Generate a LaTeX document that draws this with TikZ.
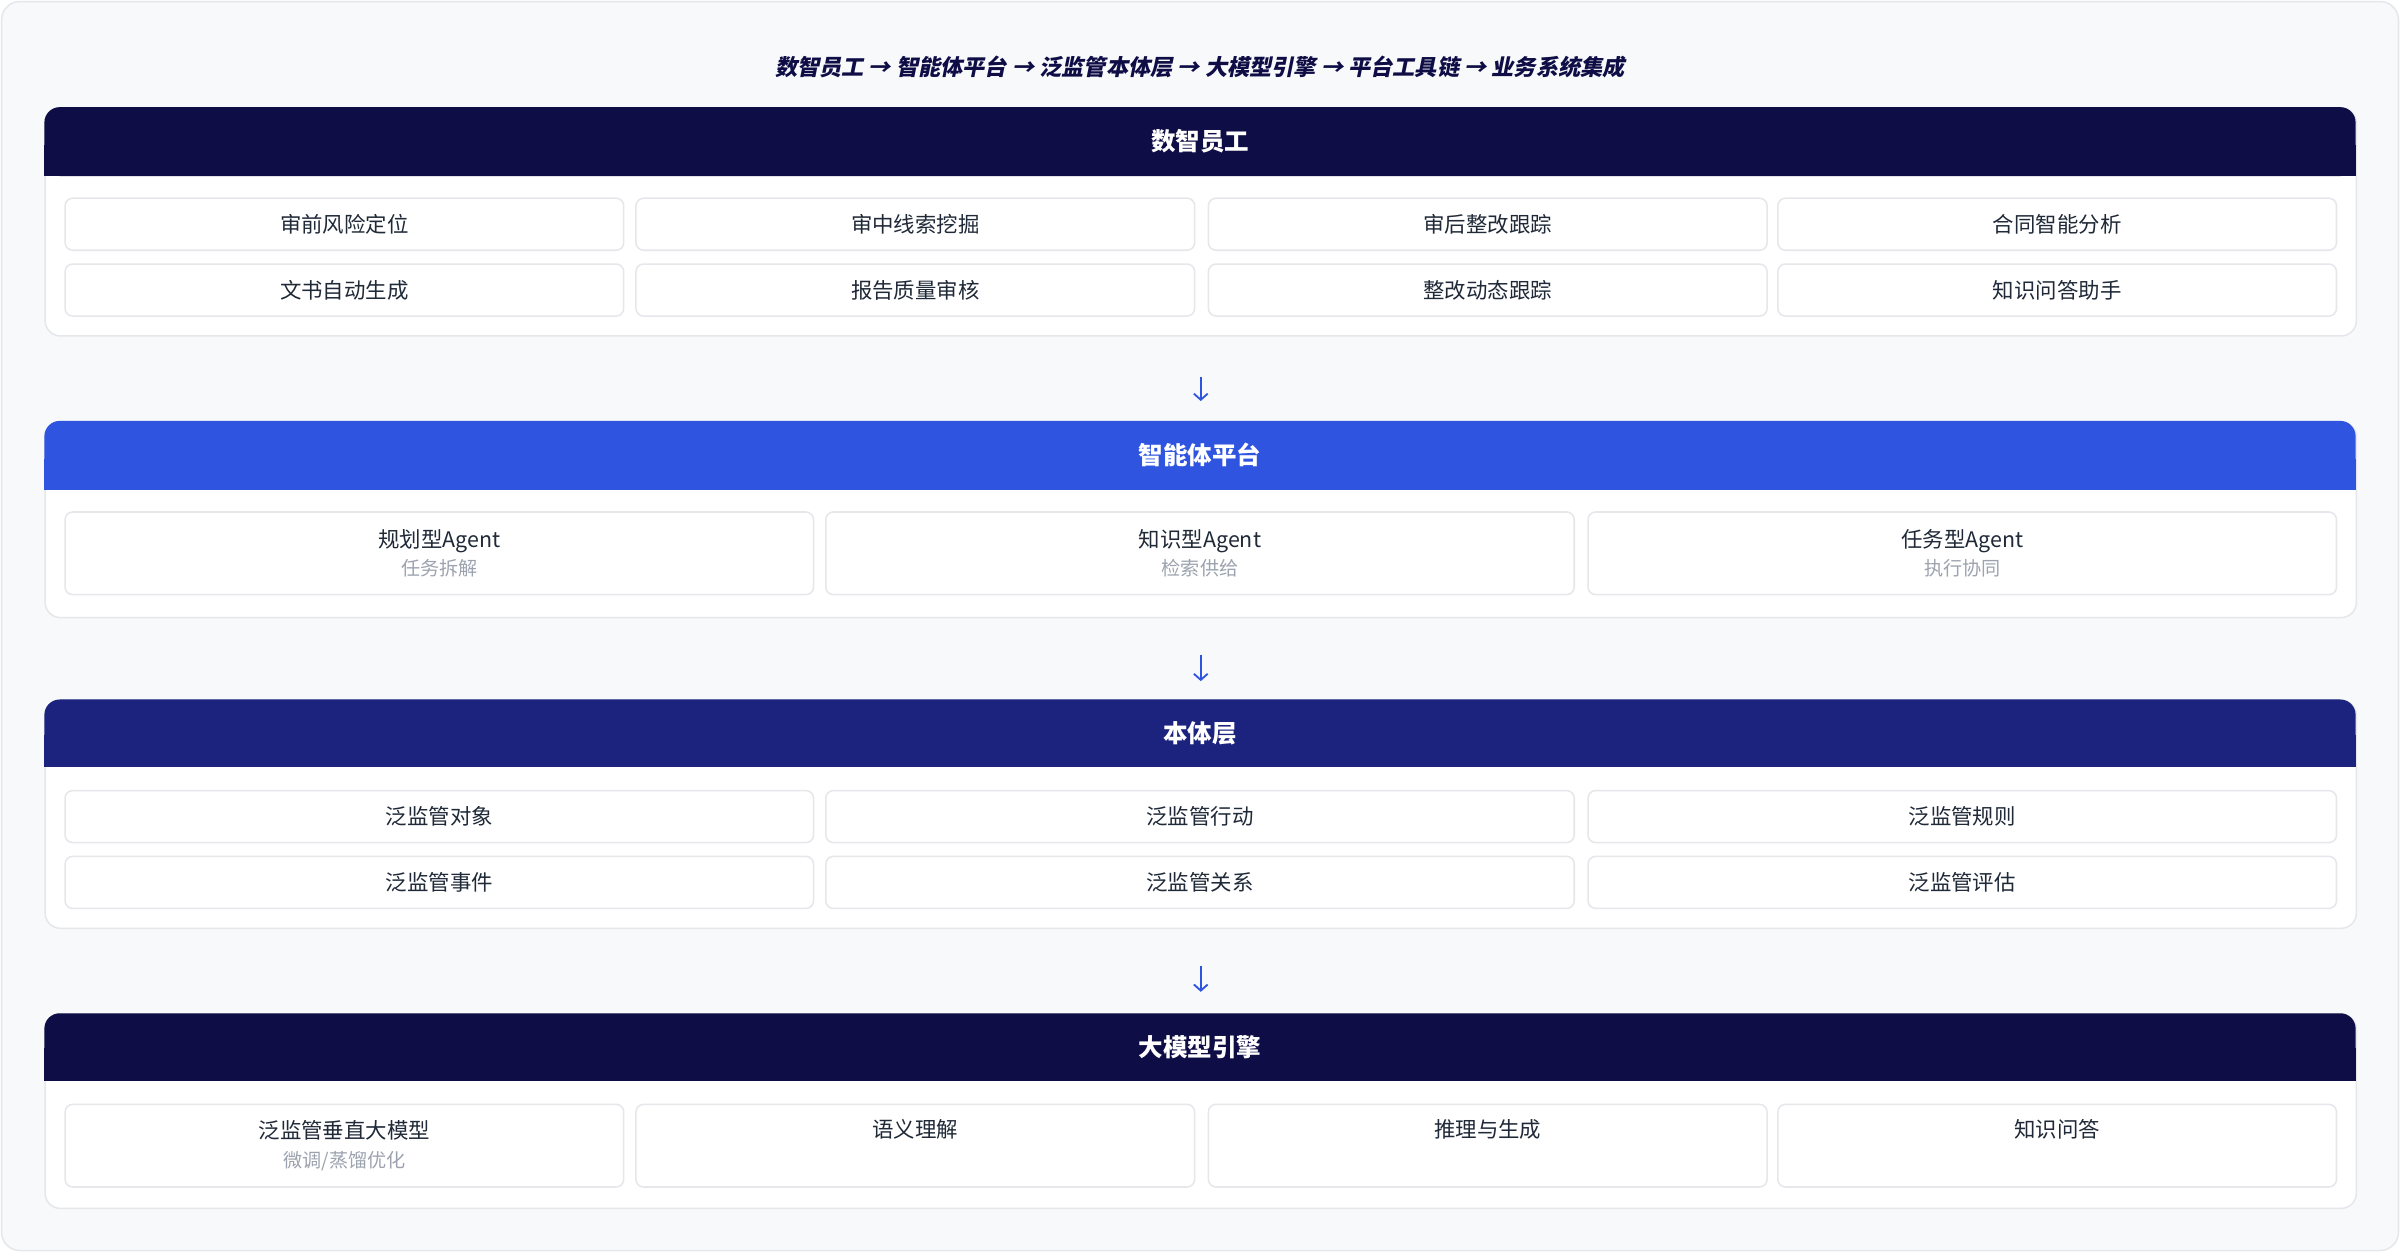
\documentclass[tikz,border=0pt]{standalone}
\usepackage{fontspec}
\setmainfont{Noto Sans CJK SC}
\newfontfamily\slantfont{Noto Sans CJK SC}[FakeSlant=0.2, BoldFeatures={FakeSlant=0.2}]
\usepackage{tikz}
\usetikzlibrary{calc,positioning}
\usetikzlibrary{arrows.meta}
\definecolor{navy}{HTML}{0F0D45}
\definecolor{royal}{HTML}{2F54E0}
\definecolor{indigo}{HTML}{1B237E}
\definecolor{pagebg}{HTML}{F8F9FB}
\definecolor{edge}{HTML}{E5E7EB}
\definecolor{ink}{HTML}{1F2937}
\definecolor{muted}{HTML}{9CA3AF}
\newcommand{\subline}[1]{\\[1.5pt]{\color{muted}\fontsize{12.5}{15}\selectfont #1}}

\begin{document}
\begin{tikzpicture}[x=1pt, y=-1pt,
  cell/.style={draw=edge, line width=1pt, fill=white, rounded corners=5pt, anchor=north west, inner sep=0pt, text=ink, font=\fontsize{14}{17}\selectfont, align=center},
  quad/.style={cell, minimum width=365pt},
  triple/.style={cell, minimum width=489pt},
  panel/.style={draw=edge, line width=1pt, fill=white, rounded corners=10pt, anchor=north west, minimum width=1510pt, inner sep=0pt},
  headtxt/.style={text=white, font=\fontsize{16}{19}\selectfont\bfseries},
  flow/.style={royal, line width=1.2pt, -{Straight Barb[length=4pt, width=9pt]}}]
\useasboundingbox (0,0) rectangle (1568,818);
% background card
\draw[fill=pagebg, draw=edge, line width=1pt, rounded corners=12pt] (1,1) rectangle (1567,817);
\node[text=navy, font=\fontsize{14.5}{17}\slantfont\bfseries] (title) at (784,44) {数智员工 → 智能体平台 → 泛监管本体层 → 大模型引擎 → 平台工具链 → 业务系统集成};

% FIRST SECTION
\node[panel, minimum height=149pt] (s1) at (29,70) {};
\fill[navy, rounded corners=10pt] (29,70) rectangle (1539,115);
\fill[navy] (29,95) rectangle (1539,115);
\node[headtxt] (h1) at (784,92.5) {数智员工};
\node[quad, minimum height=34pt] (a1) at (42,129) {审前风险定位};
\node[quad, minimum height=34pt] (a2) at (415,129) {审中线索挖掘};
\node[quad, minimum height=34pt] (a3) at (789,129) {审后整改跟踪};
\node[quad, minimum height=34pt] (a4) at (1161,129) {合同智能分析};
\node[quad, minimum height=34pt] (a5) at (42,172) {文书自动生成};
\node[quad, minimum height=34pt] (a6) at (415,172) {报告质量审核};
\node[quad, minimum height=34pt] (a7) at (789,172) {整改动态跟踪};
\node[quad, minimum height=34pt] (a8) at (1161,172) {知识问答助手};

% SECOND SECTION
\node[panel, minimum height=128pt] (s2) at (29,275) {};
\fill[royal, rounded corners=10pt] (29,275) rectangle (1539,320);
\fill[royal] (29,300) rectangle (1539,320);
\node[headtxt] (h2) at (784,297.5) {智能体平台};
\node[triple, minimum height=54pt] (b1) at (42,334) {规划型Agent\subline{任务拆解}};
\node[triple, minimum height=54pt] (b2) at (539,334) {知识型Agent\subline{检索供给}};
\node[triple, minimum height=54pt] (b3) at (1037,334) {任务型Agent\subline{执行协同}};

% THIRD SECTION
\node[panel, minimum height=149pt] (s3) at (29,457) {};
\fill[indigo, rounded corners=10pt] (29,457) rectangle (1539,501);
\fill[indigo] (29,480) rectangle (1539,501);
\node[headtxt] (h3) at (784,479) {本体层};
\node[triple, minimum height=34pt] (c1) at (42,516) {泛监管对象};
\node[triple, minimum height=34pt] (c2) at (539,516) {泛监管行动};
\node[triple, minimum height=34pt] (c3) at (1037,516) {泛监管规则};
\node[triple, minimum height=34pt] (c4) at (42,559) {泛监管事件};
\node[triple, minimum height=34pt] (c5) at (539,559) {泛监管关系};
\node[triple, minimum height=34pt] (c6) at (1037,559) {泛监管评估};

% FOURTH SECTION
\node[panel, minimum height=127pt] (s4) at (29,662) {};
\fill[navy, rounded corners=10pt] (29,662) rectangle (1539,706);
\fill[navy] (29,685) rectangle (1539,706);
\node[headtxt] (h4) at (784,684) {大模型引擎};
\node[quad, minimum height=54pt] (d1) at (42,721) {泛监管垂直大模型\subline{微调/蒸馏优化}};
\node[quad, minimum height=54pt] (d2) at (415,721) {语义理解\subline{\strut}};
\node[quad, minimum height=54pt] (d3) at (789,721) {推理与生成\subline{\strut}};
\node[quad, minimum height=54pt] (d4) at (1161,721) {知识问答\subline{\strut}};

% layer arrows
\draw[flow] ($(s1.south)+(0,-26pt)$) -- ($(s2.north)+(0,13pt)$);
\draw[flow] ($(s2.south)+(0,-24pt)$) -- ($(s3.north)+(0,12pt)$);
\draw[flow] ($(s3.south)+(0,-24pt)$) -- ($(s4.north)+(0,14pt)$);
\end{tikzpicture}
\end{document}
